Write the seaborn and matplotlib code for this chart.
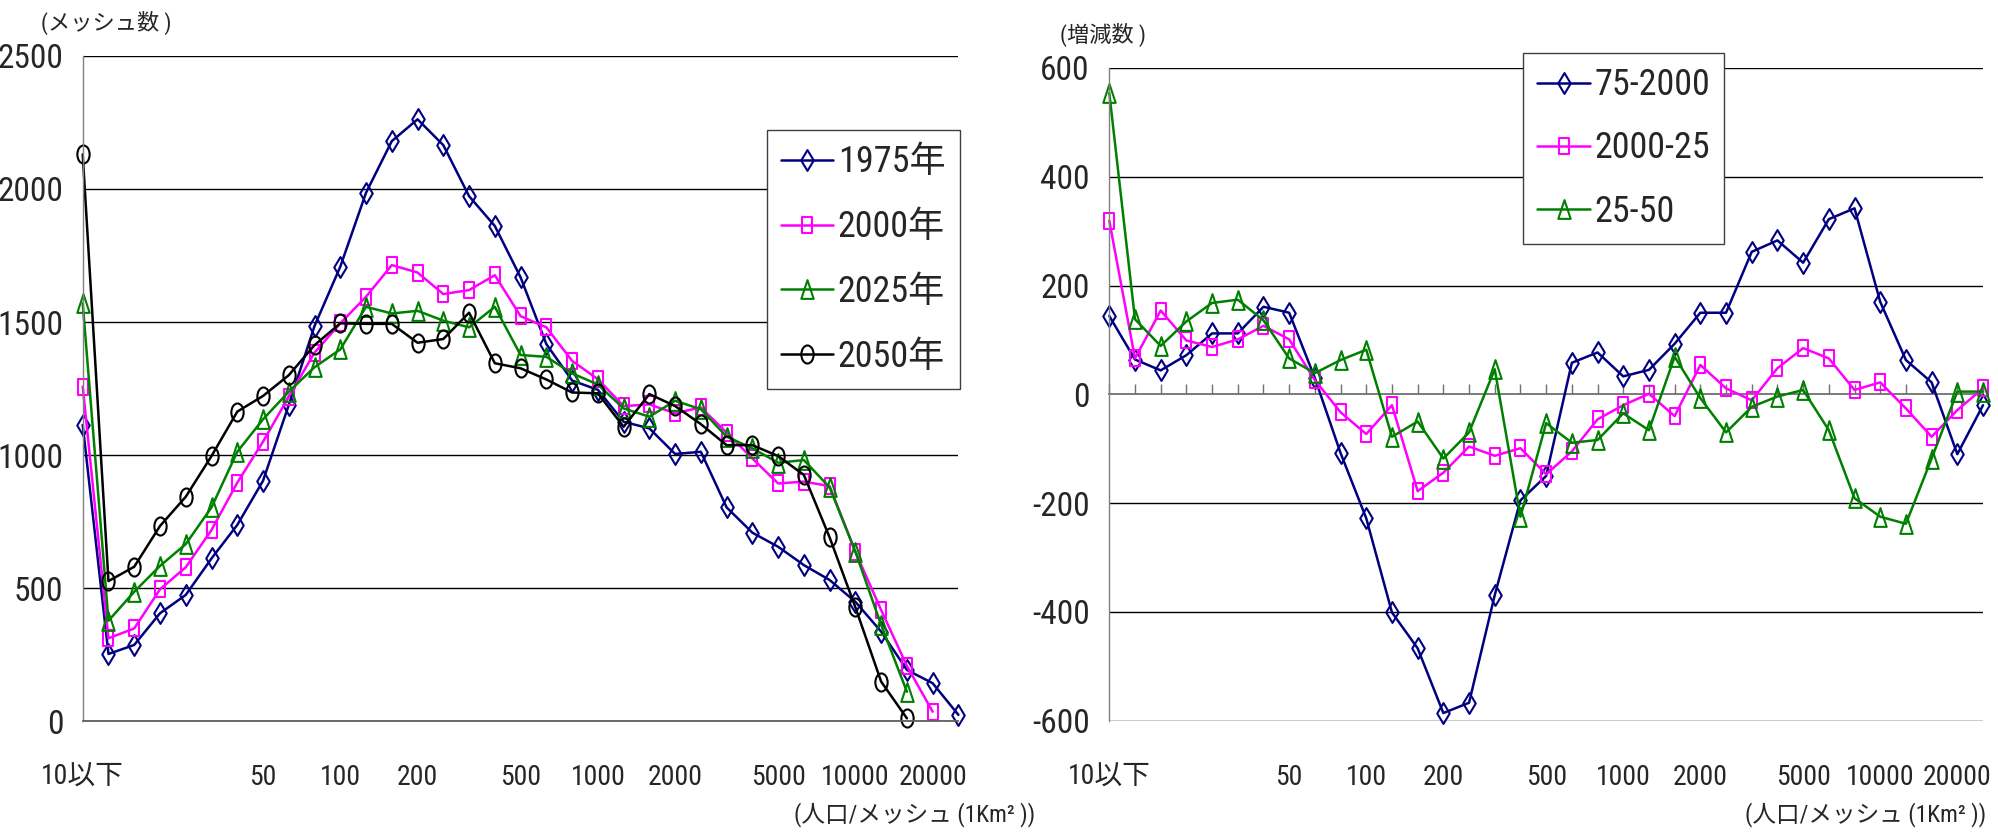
import numpy as np
import matplotlib
matplotlib.use("Agg")
import matplotlib.pyplot as plt
from matplotlib.path import Path
from matplotlib import font_manager
import seaborn as sns

nan = np.nan

# Population-density classes (0.1-decade bins); only some are labelled
tick_labels = ["10以下", "", "", "", "", "", "", "50", "", "", "100", "", "", "200",
               "", "", "", "500", "", "", "1000", "", "", "2000", "", "", "", "5000",
               "", "", "10000", "", "", "20000", ""]

# Number of meshes per density class
mesh_1975 = [1113, 252, 286, 405, 474, 611, 737, 903, 1188, 1485, 1708, 1986, 2180, 2262,
             2165, 1973, 1861, 1668, 1417, 1280, 1245, 1125, 1100, 1004, 1012, 803, 708,
             655, 586, 530, 448, 336, 192, 142, 23]
mesh_2000 = [1257, 311, 348, 495, 578, 718, 896, 1050, 1219, 1385, 1495, 1595, 1714, 1686,
             1605, 1620, 1676, 1522, 1480, 1354, 1285, 1184, 1190, 1157, 1179, 1084, 987,
             893, 900, 883, 636, 417, 207, 35, nan]
mesh_2025 = [1570, 377, 486, 583, 665, 803, 1012, 1134, 1238, 1330, 1397, 1557, 1532, 1542,
             1505, 1480, 1557, 1376, 1369, 1307, 1265, 1175, 1144, 1204, 1172, 1069, 1025,
             971, 981, 878, 636, 361, 110, nan, nan]
mesh_2050 = [2130, 526, 580, 733, 843, 996, 1163, 1222, 1300, 1413, 1495, 1493, 1493, 1422,
             1436, 1535, 1345, 1326, 1284, 1235, 1232, 1106, 1229, 1184, 1116, 1037, 1037,
             996, 925, 690, 427, 148, 10, nan, nan]
year_labels = ["1975年", "2000年", "2025年", "2050年"]

# Change in number of meshes between periods
change_75_00 = [144, 64, 44, 72, 112, 112, 161, 150, 30, -108, -228, -401, -467, -586, -567,
                -369, -195, -150, 58, 77, 33, 45, 93, 150, 150, 262, 283, 242, 322, 342,
                170, 63, 22, -110, -20]
change_00_25 = [319, 66, 154, 99, 87, 101, 126, 101, 26, -33, -73, -20, -178, -144, -96,
                -113, -99, -147, -105, -46, -20, 1, -40, 54, 11, -11, 48, 85, 66, 8, 22,
                -26, -78, -29, 11]
change_25_50 = [554, 138, 89, 134, 168, 174, 136, 66, 39, 63, 82, -78, -50, -118, -70, 46,
                -225, -53, -89, -84, -35, -66, 69, -7, -70, -23, -4, 8, -66, -191, -225,
                -238, -118, 5, 5]
period_labels = ["75-2000", "2000-25", "25-50"]

left_yticks = [0, 500, 1000, 1500, 2000, 2500]
right_yticks = [-600, -400, -200, 0, 200, 400, 600]
right_yticklabels = ["-600", "-400", "-200", "0", "200", "400", "600"]

positions = np.arange(len(tick_labels))

# ---- fonts: prefer a narrow Latin face, CJK glyphs from Noto -----------
sns.set_style("white")
entries = font_manager.fontManager.ttflist
names = {f.name for f in entries}
condensed_names = {f.name for f in entries
                   if str(f.stretch) in ("condensed", "semi-condensed", "extra-condensed")
                   and f.style == "normal"}
latin, use_stretch = None, False
for cand in ("Liberation Sans Narrow", "Roboto Condensed", "Open Sans Condensed",
             "Noto Sans Condensed", "DejaVu Sans Condensed"):
    if cand in names:
        latin = cand
        break
if latin is None:
    for cand in ("Liberation Sans", "Noto Sans", "Roboto", "Open Sans", "DejaVu Sans"):
        if cand in condensed_names:
            latin, use_stretch = cand, True
            break
narrow = latin is not None
if latin is None:
    latin = "Liberation Sans"

plt.rcParams["font.family"] = [latin, "Noto Sans CJK JP", "DejaVu Sans"]
if use_stretch:
    plt.rcParams["font.stretch"] = "condensed"
plt.rcParams["axes.unicode_minus"] = False

tick_fs = 20 if narrow else 19
ytick_fs = 24 if narrow else 20
legend_fs = 26 if narrow else 23
note_fs = 16

# ---- tall, narrow open markers ----------------------------------------
def outline(points):
    verts = list(points) + [points[0]]
    codes = [Path.MOVETO] + [Path.LINETO] * (len(points) - 1) + [Path.CLOSEPOLY]
    return Path(verts, codes)

diamond = outline([(0, 1), (0.6, 0), (0, -1), (-0.6, 0)])
square = outline([(-0.62, -1), (0.62, -1), (0.62, 1), (-0.62, 1)])
triangle = outline([(0, 1), (0.66, -1), (-0.66, -1)])
_circ = Path.unit_circle()
ellipse = Path(_circ.vertices * np.array([0.68, 1.0]), _circ.codes)

navy, magenta, green, black = "#000080", "#FF00FF", "#008000", "#000000"
styles = [(navy, diamond, 15.0), (magenta, square, 12.2),
          (green, triangle, 13.5), (black, ellipse, 13.0)]


def draw_series(ax, values, style, label):
    color, marker, ms = style
    sns.lineplot(x=positions, y=np.asarray(values, dtype=float), ax=ax, color=color,
                 linewidth=1.8, marker=marker, markersize=ms, markerfacecolor="none",
                 markeredgecolor=color, markeredgewidth=1.5, label=label,
                 clip_on=False, estimator=None, sort=False, errorbar=None)


def style_axes(ax, yticks, yticklabels):
    ax.set_xlim(0, len(tick_labels) - 1)
    ax.set_yticks(yticks, labels=yticklabels)
    ax.tick_params(axis="y", length=0, pad=14, labelsize=ytick_fs)
    ax.yaxis.grid(True, color="black", linewidth=1.0)
    ax.xaxis.grid(False)
    ax.set_axisbelow(True)
    for side in ("top", "right"):
        ax.spines[side].set_visible(False)
    ax.spines["left"].set_color("#808080")
    ax.spines["left"].set_linewidth(1.0)
    ax.set_xlabel("")
    ax.set_ylabel("")


def add_legend(ax, anchor, spacing):
    leg = ax.legend(loc="upper left", bbox_to_anchor=anchor, fontsize=legend_fs,
                    frameon=True, fancybox=False, edgecolor="#404040", framealpha=1,
                    borderaxespad=0, handlelength=1.45, handletextpad=0.12,
                    labelspacing=spacing, borderpad=0.4)
    leg.get_frame().set_linewidth(1.0)
    return leg


fig = plt.figure(figsize=(19.98, 8.32), dpi=100)
fig.patch.set_facecolor("white")

# ---- left: mesh counts -------------------------------------------------
ax1 = fig.add_axes([0.0414, 0.1334, 0.4383, 0.7993])
for vals, st, lab in zip([mesh_1975, mesh_2000, mesh_2025, mesh_2050], styles, year_labels):
    draw_series(ax1, vals, st, lab)
ax1.set_ylim(0, 2500)
style_axes(ax1, left_yticks, [str(v) for v in left_yticks])
ax1.set_xticks(positions, labels=tick_labels)
ax1.tick_params(axis="x", direction="in", length=7.5, width=1.0, color="#707070",
                pad=31, labelsize=tick_fs)
ax1.spines["bottom"].set_color("#606060")
ax1.spines["bottom"].set_linewidth(1.3)
add_legend(ax1, (0.781, 0.889), 0.8)

ax1.text(-0.048, 1.05, "(メッシュ数 )", transform=ax1.transAxes, fontsize=note_fs,
         ha="left", va="center")
ax1.text(0.812, -0.141, "(人口/メッシュ (1Km² ))", transform=ax1.transAxes,
         fontsize=note_fs + 1, ha="left", va="center", clip_on=False)

# ---- right: changes between periods -----------------------------------
ax2 = fig.add_axes([0.5552, 0.1338, 0.4373, 0.7845])
for vals, st, lab in zip([change_75_00, change_00_25, change_25_50], styles[:3], period_labels):
    draw_series(ax2, vals, st, lab)
ax2.set_ylim(-600, 600)
style_axes(ax2, right_yticks, right_yticklabels)
ax2.set_xticks(positions, labels=tick_labels)
ax2.tick_params(axis="x", length=0, pad=31, labelsize=tick_fs)
ax2.spines["bottom"].set_visible(False)
for tick, val in zip(ax2.yaxis.get_major_ticks(), right_yticks):
    if val == 0:
        tick.gridline.set_visible(False)

# category axis running along the zero line, ticks pointing up
zero_axis = ax2.secondary_xaxis(0.5)
zero_axis.set_xticks(positions)
zero_axis.tick_params(axis="x", direction="out", length=7.5, width=1.0, color="#707070",
                      labeltop=False, labelbottom=False)
for sp in zero_axis.spines.values():
    sp.set_color("#707070")
    sp.set_linewidth(1.3)
add_legend(ax2, (0.4735, 1.023), 0.75)

ax2.text(-0.056, 1.0506, "(増減数 )", transform=ax2.transAxes, fontsize=note_fs,
         ha="left", va="center")
ax2.text(0.7276, -0.1445, "(人口/メッシュ (1Km² ))", transform=ax2.transAxes,
         fontsize=note_fs + 1, ha="left", va="center", clip_on=False)

fig.savefig("out.png", dpi=100, facecolor="white")
